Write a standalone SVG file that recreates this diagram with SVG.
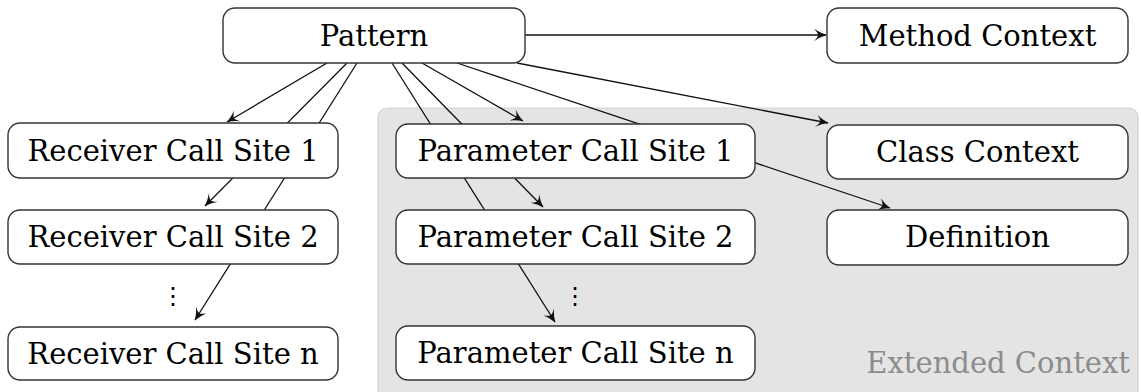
<svg xmlns="http://www.w3.org/2000/svg" width="1141" height="392" viewBox="0 0 1141 392">
  <style>
    .box { fill: #ffffff; stroke: #333333; stroke-width: 1.4; }
    .lbl { font-family: 'DejaVu Serif', serif; font-size: 29px; fill: #000000; text-anchor: middle; }
    .edge { stroke: #111111; stroke-width: 1.3; fill: none; marker-end: url(#arrow); }
    .dots { font-family: 'DejaVu Serif', serif; font-size: 24px; fill: #000000; text-anchor: middle; }
    .region { fill: #e4e4e4; stroke: #d2d2d2; stroke-width: 1.2; }
    .region-lbl { font-family: 'DejaVu Serif', serif; font-size: 29px; fill: #8c8c8c; text-anchor: end; }
  </style>
  <defs>
    <marker id="arrow" markerUnits="userSpaceOnUse" markerWidth="15" markerHeight="14" viewBox="-14 -7 15 14" refX="0" refY="0" orient="auto">
      <path d="M0.5,0 Q-6,-2 -12,-6.2 Q-8,-2.2 -8,0 Q-8,2.2 -12,6.2 Q-6,2 0.5,0 Z" fill="#111111"/>
    </marker>
  </defs>

  <rect width="1141" height="392" fill="#ffffff"/>

  <!-- extended context region -->
  <g id="extended-context">
    <rect class="region" x="378" y="108" width="760" height="300" rx="9"/>
    <text class="region-lbl" x="1130" y="373">Extended Context</text>
  </g>

  <!-- connectors -->
  <g id="connectors">
    <line class="edge" x1="327" y1="63" x2="227" y2="122"/>
    <line class="edge" x1="347" y1="63" x2="205" y2="206"/>
    <line class="edge" x1="357" y1="63" x2="195" y2="320"/>
    <line class="edge" x1="392" y1="63" x2="555" y2="322"/>
    <line class="edge" x1="402" y1="63" x2="543" y2="207"/>
    <line class="edge" x1="422" y1="63" x2="523" y2="121"/>
    <line class="edge" x1="457" y1="63" x2="890" y2="208"/>
    <line class="edge" x1="517" y1="63" x2="828" y2="123"/>
    <line class="edge" x1="525" y1="35" x2="826" y2="35"/>
  </g>

  <!-- nodes -->
  <g id="pattern">
    <rect class="box" x="223" y="8" width="302" height="55" rx="12"/>
    <text class="lbl" x="374" y="46">Pattern</text>
  </g>
  <g id="method-context">
    <rect class="box" x="827" y="8" width="301" height="55" rx="12"/>
    <text class="lbl" x="977.5" y="46">Method Context</text>
  </g>
  <g id="class-context">
    <rect class="box" x="827" y="125" width="301" height="54" rx="12"/>
    <text class="lbl" x="977.5" y="162">Class Context</text>
  </g>
  <g id="definition">
    <rect class="box" x="827" y="210" width="301" height="55" rx="12"/>
    <text class="lbl" x="977.5" y="247">Definition</text>
  </g>

  <g id="receiver-1">
    <rect class="box" x="8" y="123" width="330" height="55" rx="12"/>
    <text class="lbl" x="173" y="161">Receiver Call Site 1</text>
  </g>
  <g id="receiver-2">
    <rect class="box" x="8" y="210" width="330" height="54" rx="12"/>
    <text class="lbl" x="173" y="247">Receiver Call Site 2</text>
  </g>
  <g id="receiver-n">
    <rect class="box" x="8" y="327" width="330" height="53" rx="12"/>
    <text class="lbl" x="173" y="364">Receiver Call Site n</text>
  </g>

  <g id="parameter-1">
    <rect class="box" x="396" y="124" width="359" height="54" rx="12"/>
    <text class="lbl" x="575.5" y="161">Parameter Call Site 1</text>
  </g>
  <g id="parameter-2">
    <rect class="box" x="396" y="210" width="359" height="54" rx="12"/>
    <text class="lbl" x="575.5" y="247">Parameter Call Site 2</text>
  </g>
  <g id="parameter-n">
    <rect class="box" x="396" y="326" width="359" height="54" rx="12"/>
    <text class="lbl" x="575.5" y="363">Parameter Call Site n</text>
  </g>

  <!-- vertical ellipses between the call-site rows -->
  <text class="dots" x="173" y="304">⋮</text>
  <text class="dots" x="575" y="304">⋮</text>
</svg>
